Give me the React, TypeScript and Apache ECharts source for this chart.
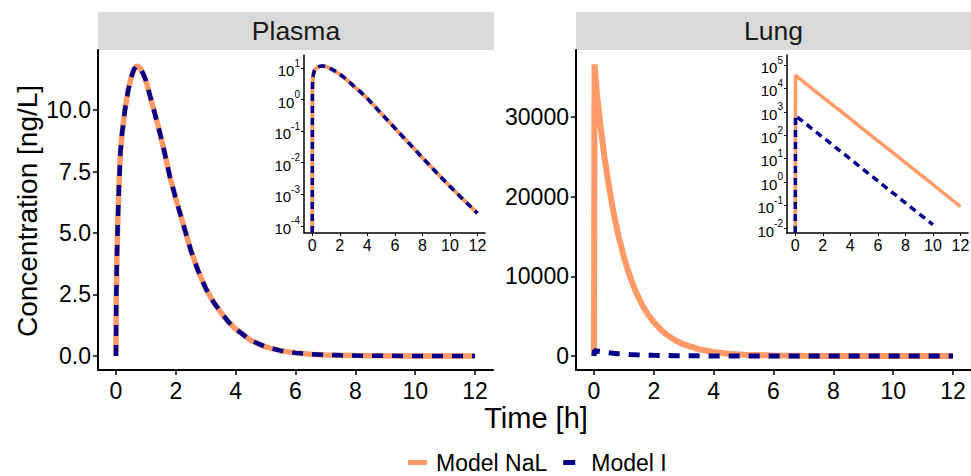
import React, { useEffect, useRef } from "react";
import * as echarts from "echarts";

// ---------- data ----------
const panelNames = ["Plasma", "Lung"];
const modelNames = ["Model NaL", "Model I"];

const plasmaTime = [0, 0.01, 0.03, 0.06, 0.1, 0.15, 0.2, 0.3, 0.4, 0.5, 0.6, 0.7, 0.8, 0.9, 1.0, 1.2, 1.4, 1.6, 1.8, 2.0, 2.25, 2.5, 2.75, 3.0, 3.25, 3.5, 3.75, 4.0, 4.5, 5.0, 5.5, 6.0, 6.5, 7.0, 7.5, 8.0, 9.0, 10.0, 11.0, 12.0];
const plasmaNaL = [0, 2.2, 3.9, 5.4, 6.9, 8.3, 9.0, 10.0, 10.75, 11.3, 11.65, 11.8, 11.72, 11.5, 11.2, 10.3, 9.4, 8.4, 7.3, 6.4, 5.35, 4.3, 3.45, 2.75, 2.21, 1.78, 1.4, 1.1, 0.64, 0.37, 0.216, 0.126, 0.073, 0.043, 0.025, 0.0145, 0.005, 0.00178, 0.00066, 0.00025];
const plasmaModelI = [0, 2.2, 3.9, 5.4, 6.9, 8.3, 9.0, 10.0, 10.75, 11.3, 11.65, 11.8, 11.72, 11.5, 11.2, 10.3, 9.4, 8.4, 7.3, 6.4, 5.35, 4.3, 3.45, 2.75, 2.21, 1.78, 1.4, 1.1, 0.64, 0.37, 0.216, 0.126, 0.073, 0.043, 0.025, 0.0145, 0.005, 0.00178, 0.00066, 0.00025];

const lungTime = [0, 0.02, 0.1, 0.2, 0.35, 0.5, 0.65, 0.8, 1.0, 1.2, 1.4, 1.6, 1.8, 2.0, 2.25, 2.5, 2.75, 3.0, 3.5, 4.0, 4.5, 5.0, 6.0, 7.0, 8.0, 9.0, 10.0, 11.0, 12.0];
const lungNaL = [0, 36600, 32900, 29500, 25000, 21300, 18100, 15400, 12400, 10000, 8050, 6500, 5250, 4250, 3250, 2480, 1900, 1450, 850, 495, 290, 168, 57, 19.5, 6.6, 2.25, 0.77, 0.26, 0.088];
const lungModelI = [0, 700, 629, 564, 478, 407, 346, 295, 237, 191, 154, 124, 100, 81, 62, 47.4, 36.3, 27.7, 16.3, 9.5, 5.5, 3.2, 1.09, 0.37, 0.126, 0.043, 0.0147, 0.005, 0.0017];

const timeTicks = [0, 2, 4, 6, 8, 10, 12];
const plasmaTicks = [0, 2.5, 5, 7.5, 10];
const lungTicks = [0, 10000, 20000, 30000];
const plasmaLogTicks = [-4, -3, -2, -1, 0, 1];
const lungLogTicks = [-2, -1, 0, 1, 2, 3, 4, 5];

// ---------- styling ----------
const FONT = "'Liberation Sans', Arial, sans-serif";
const ORANGE = "#FF9966";
const NAVY = "#00008B";

const pairs = (t: number[], v: number[]) => t.map((x, i) => [x, v[i]]);
const logPairs = (t: number[], v: number[], floor: number, cut: number) =>
  t
    .map((x, i) => {
      const y = v[i];
      if (y <= 0) return [x, floor];
      if (y < cut) return null;
      return [x, Math.log10(y)];
    })
    .filter((p) => p !== null);

const mainX = (gridIndex: number) => ({
  type: "value",
  gridIndex,
  min: -0.6,
  max: 12.6,
  splitLine: { show: false },
  axisLine: { onZero: false, lineStyle: { color: "#000", width: 2 } },
  axisTick: { customValues: timeTicks, length: 5, lineStyle: { color: "#000", width: 1.5 } },
  axisLabel: { customValues: timeTicks, margin: 9, fontSize: 23, color: "#000", fontFamily: FONT },
});

const insetX = (gridIndex: number) => ({
  type: "value",
  gridIndex,
  min: -0.6,
  max: 12.55,
  splitLine: { show: false },
  axisLine: { onZero: false, lineStyle: { color: "#000", width: 1.5 } },
  axisTick: { customValues: timeTicks, length: 3, lineStyle: { color: "#000", width: 1 } },
  axisLabel: { customValues: timeTicks, margin: 4, fontSize: 16, color: "#000", fontFamily: FONT },
});

const insetY = (gridIndex: number, min: number, max: number, ticks: number[]) => ({
  type: "value",
  gridIndex,
  min,
  max,
  splitLine: { show: false },
  axisLine: { onZero: false, lineStyle: { color: "#000", width: 1.5 } },
  axisTick: { customValues: ticks, length: 3, lineStyle: { color: "#000", width: 1 } },
  axisLabel: {
    customValues: ticks,
    margin: 4,
    formatter: (v: number) => `{b|10}{s|${Math.round(v)}}`,
    rich: {
      b: { fontSize: 15, color: "#000", fontFamily: FONT, lineHeight: 20, verticalAlign: "bottom" },
      s: { fontSize: 10, color: "#000", fontFamily: FONT, lineHeight: 10, verticalAlign: "top" },
    },
  },
});

const line = (name: string, xi: number, data: any[], color: string, width: number, dash?: number[]) => ({
  type: "line",
  name,
  xAxisIndex: xi,
  yAxisIndex: xi,
  data,
  showSymbol: false,
  symbol: "none",
  clip: true,
  lineStyle: { color, width, type: dash ? dash : "solid", cap: "butt" },
  itemStyle: { color },
  z: xi >= 2 ? 5 : 2,
});

export default function App() {
  const ref = useRef<HTMLDivElement>(null);

  useEffect(() => {
    if (!ref.current) return;
    const chart = echarts.init(ref.current, undefined, { renderer: "svg" });

    const PL_MIN = -4.23, PL_MAX = 1.42;
    const LU_MIN = -2.19, LU_MAX = 5.43;

    chart.setOption({
      animation: false,
      backgroundColor: "#fff",
      textStyle: { fontFamily: FONT },
      grid: [
        { left: 98, top: 50, width: 395, height: 320, outerBoundsMode: "none" },
        { left: 576, top: 50, width: 395, height: 320, outerBoundsMode: "none" },
        { left: 304, top: 55, width: 181, height: 178, outerBoundsMode: "none" },
        { left: 787, top: 55, width: 181, height: 178, outerBoundsMode: "none" },
      ],
      xAxis: [mainX(0), mainX(1), insetX(2), insetX(3)],
      yAxis: [
        {
          type: "value",
          gridIndex: 0,
          min: -0.57,
          max: 12.44,
          splitLine: { show: false },
          axisLine: { onZero: false, lineStyle: { color: "#000", width: 2 } },
          axisTick: { customValues: plasmaTicks, length: 5, lineStyle: { color: "#000", width: 1.5 } },
          axisLabel: {
            customValues: plasmaTicks,
            margin: 7,
            fontSize: 23,
            color: "#000",
            fontFamily: FONT,
            formatter: (v: number) => v.toFixed(1),
          },
        },
        {
          type: "value",
          gridIndex: 1,
          min: -1757,
          max: 38410,
          splitLine: { show: false },
          axisLine: { onZero: false, lineStyle: { color: "#000", width: 2 } },
          axisTick: { customValues: lungTicks, length: 5, lineStyle: { color: "#000", width: 1.5 } },
          axisLabel: {
            customValues: lungTicks,
            margin: 7,
            fontSize: 23,
            color: "#000",
            fontFamily: FONT,
            formatter: (v: number) => String(Math.round(v)),
          },
        },
        insetY(2, PL_MIN, PL_MAX, plasmaLogTicks),
        insetY(3, LU_MIN, LU_MAX, lungLogTicks),
      ],
      legend: {
        data: [
          { name: modelNames[0], icon: "path://M0,0H19V5H0Z", itemStyle: { color: ORANGE } },
          { name: modelNames[1], icon: "path://M0,0H12V5H0ZM18.99,0H19V0.01H18.99Z", itemStyle: { color: NAVY } },
        ],
        left: 408,
        top: 451,
        padding: 0,
        itemWidth: 19,
        itemHeight: 5,
        itemGap: 16,
        selectedMode: false,
        textStyle: { fontSize: 23, lineHeight: 18, color: "#000", fontFamily: FONT, padding: [0, 0, 0, 4] },
      },
      series: [
        line(modelNames[0], 0, pairs(plasmaTime, plasmaNaL), ORANGE, 5.5),
        line(modelNames[1], 0, pairs(plasmaTime, plasmaModelI), NAVY, 4.5, [11, 9]),
        line(modelNames[0], 1, pairs(lungTime, lungNaL), ORANGE, 6),
        line(modelNames[1], 1, pairs(lungTime, lungModelI), NAVY, 5, [11, 9]),
        line(modelNames[0], 2, logPairs(plasmaTime, plasmaNaL, PL_MIN, 0), ORANGE, 4),
        line(modelNames[1], 2, logPairs(plasmaTime, plasmaModelI, PL_MIN, 0), NAVY, 3.5, [7, 5]),
        line(modelNames[0], 3, logPairs(lungTime, lungNaL, LU_MIN, 0.01), ORANGE, 3.5),
        line(modelNames[1], 3, logPairs(lungTime, lungModelI, LU_MIN, 0.01), NAVY, 3.5, [7, 5]),
      ],
      graphic: [
        { type: "rect", silent: true, shape: { x: 98, y: 12, width: 396, height: 38 }, style: { fill: "#D9D9D9" } },
        { type: "rect", silent: true, shape: { x: 576, y: 12, width: 395, height: 38 }, style: { fill: "#D9D9D9" } },
        {
          type: "text", silent: true, x: 296, y: 31,
          style: { text: panelNames[0], fontSize: 26.5, fontFamily: FONT, fill: "#1A1A1A", align: "center", verticalAlign: "middle" },
        },
        {
          type: "text", silent: true, x: 773.5, y: 31,
          style: { text: panelNames[1], fontSize: 26.5, fontFamily: FONT, fill: "#1A1A1A", align: "center", verticalAlign: "middle" },
        },
        {
          type: "text", silent: true, x: 536, y: 418,
          style: { text: "Time [h]", fontSize: 29, fontFamily: FONT, fill: "#000", align: "center", verticalAlign: "middle" },
        },
        {
          type: "text", silent: true, x: 27, y: 211, rotation: Math.PI / 2,
          style: { text: "Concentration [ng/L]", fontSize: 28, fontFamily: FONT, fill: "#000", align: "center", verticalAlign: "middle" },
        },
      ],
    });

    return () => chart.dispose();
  }, []);

  return (
    <div
      ref={ref}
      style={{ position: "fixed", left: 0, top: 0, width: 971, height: 476, background: "#fff" }}
    />
  );
}
